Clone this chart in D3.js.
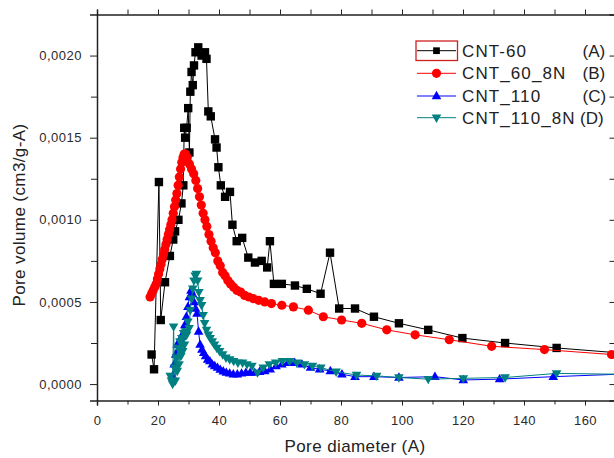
<!DOCTYPE html>
<html>
<head>
<meta charset="utf-8">
<title>Pore volume distribution</title>
<script src="https://d3js.org/d3.v7.min.js"></script>
<style type="text/css">
body { margin: 0; background: #fff; }
svg { display: block; font-family: Arial, "Liberation Sans", sans-serif; }
.tick text { fill: #2a2a2a; font-size: 13px; letter-spacing: 0.5px; }
.axis path, .axis line { stroke: #222; }
.axis path { stroke-width: 1.5px; }
</style>
</head>
<body>
<div id="chart"></div>
<script type="text/javascript">
// CNT-60 (A)
var cnt60X = [17.9, 18.7, 20.3, 20.9, 22.3, 23.9, 25.0, 25.6, 26.7, 27.7, 28.3, 28.6, 28.9, 29.4, 29.9,
    30.3, 30.6, 31.0, 31.4, 31.8, 32.3, 33.2, 34.3, 35.4, 35.9, 36.5, 37.3, 38.7, 39.2, 39.8,
    40.6, 42.0, 43.6, 44.4, 45.8, 47.6, 49.6, 51.8, 54.0, 55.8, 56.7, 58.0, 60.6, 64.9, 68.8,
    73.3, 76.4, 79.4, 84.6, 90.8, 99.0, 108.6, 119.8, 133.8, 150.7, 171];
var cnt60Y = [0.00018, 0.00009, 0.00123, 0.00039, 0.00062, 0.00078, 0.00088, 0.00093, 0.00100, 0.00110,
    0.00121, 0.00156, 0.00150, 0.00156, 0.00168, 0.00141, 0.00178, 0.00190, 0.00182, 0.00194,
    0.00202, 0.00205, 0.00200, 0.00202, 0.00198, 0.00166, 0.00163, 0.00149, 0.00144, 0.00132,
    0.00121, 0.00114, 0.00117, 0.00097, 0.00087, 0.00089, 0.00077, 0.00074, 0.00075, 0.00071,
    0.00087, 0.00061, 0.00061, 0.00060, 0.00058, 0.00055, 0.00080, 0.00046, 0.00046, 0.00041,
    0.00037, 0.00033, 0.00028, 0.00025, 0.00022, 0.00019];

// CNT_60_8N (B)
var cnt608nX = [17.4, 17.9, 18.4, 18.9, 19.4, 19.8, 20.2, 20.6, 21.0, 21.4, 21.8, 22.2, 22.6, 23.0, 23.4,
    23.8, 24.2, 24.6, 25.0, 25.4, 25.8, 26.2, 26.6, 27.0, 27.4, 27.8, 28.2, 28.6, 29.0, 29.6,
    30.3, 31.0, 31.7, 32.4, 33.0, 33.6, 34.2, 34.8, 35.4, 36.0, 36.7, 37.4, 38.1, 38.8, 39.6,
    40.4, 41.2, 42.0, 42.9, 43.8, 44.8, 45.9, 47.1, 48.4, 49.8, 51.3, 53.0, 55.0, 57.2, 60.6,
    64.4, 69.3, 74.2, 80.2, 86.8, 95.0, 104.3, 115.5, 129.4, 146.7, 168.7];
var cnt608nY = [0.00053, 0.00055, 0.00057, 0.00059, 0.00061, 0.00064, 0.00067, 0.00070, 0.00073, 0.00076,
    0.00079, 0.00082, 0.00085, 0.00088, 0.00091, 0.00094, 0.00097, 0.00100, 0.00104, 0.00108,
    0.00112, 0.00116, 0.00121, 0.00126, 0.00131, 0.00135, 0.00138, 0.00140, 0.00140, 0.00138,
    0.00134, 0.00131, 0.00128, 0.00124, 0.00119, 0.00114, 0.00109, 0.00104, 0.00100, 0.00096,
    0.00091, 0.00087, 0.00083, 0.00080, 0.00075, 0.00072, 0.00068, 0.00066, 0.00063, 0.00061,
    0.00059, 0.00057, 0.00056, 0.00054, 0.00053, 0.00052, 0.00051, 0.00050, 0.00049, 0.00048,
    0.00047, 0.00045, 0.00041, 0.00039, 0.00037, 0.00033, 0.00030, 0.00027, 0.00023, 0.00021,
    0.00018];

// CNT_110 (C)
var cnt110X = [24.8, 25.3, 25.8, 26.3, 26.8, 27.3, 27.8, 28.3, 28.8, 29.3, 29.8, 30.3, 30.8, 31.3, 31.8,
    32.3, 32.8, 33.3, 33.8, 34.4, 35.0, 35.6, 36.3, 37.0, 37.8, 38.6, 39.5, 40.4, 41.4, 42.4,
    43.5, 44.7, 46.0, 47.4, 48.8, 50.2, 51.7, 53.3, 55.0, 56.8, 58.7, 60.6, 62.6, 64.8, 67.2,
    70.0, 73.0, 76.5, 80.3, 84.6, 90.8, 99.0, 110.8, 120.1, 132.0, 149.6, 171];
var cnt110Y = [0.00005, 0.00012, 0.00018, 0.00024, 0.00021, 0.00027, 0.00029, 0.00031, 0.00036, 0.00041,
    0.00047, 0.00053, 0.00057, 0.00055, 0.00050, 0.00046, 0.00043, 0.00032, 0.00024, 0.00021,
    0.00019, 0.00017, 0.00015, 0.00014, 0.00012, 0.00011, 0.00010, 0.000088, 0.000078, 0.00007,
    0.000065, 0.00006, 0.00006, 0.000065, 0.00007, 0.00007, 0.00007, 0.000075, 0.00008, 0.00009,
    0.00011, 0.00012, 0.00013, 0.00013, 0.00012, 0.00010, 0.00009, 0.00008, 0.00006, 0.000045,
    0.000045, 0.00004, 0.000045, 0.000025, 0.00003, 0.000045, 0.00006];

// CNT_110_8N (D)
var cnt1108nX = [24.0, 24.4, 24.8, 25.1, 25.4, 25.7, 26.0, 26.3, 26.6, 26.9, 27.2, 27.5, 27.8, 28.1, 28.4,
    28.7, 29.0, 29.4, 29.8, 30.2, 30.6, 31.0, 31.4, 31.8, 32.2, 32.6, 33.0, 33.4, 33.8, 34.3,
    34.8, 35.3, 35.9, 36.5, 37.1, 37.8, 38.5, 39.3, 40.2, 41.2, 42.3, 43.5, 44.8, 46.2, 47.7,
    49.2, 50.8, 52.6, 54.5, 56.5, 58.6, 60.8, 63.1, 65.5, 68.0, 70.6, 73.4, 78.4, 85.1, 91.7,
    99.0, 108.6, 120.1, 133.8, 150.7, 171];
var cnt1108nY = [0.00005, 0.00002, 0.00000, 0.00035, 0.00010, 0.00002, 0.00016, 0.00008, 0.00022, 0.00012,
    0.00026, 0.00017, 0.00028, 0.00020, 0.00031, 0.00024, 0.00032, 0.00030, 0.00038, 0.00034,
    0.00045, 0.00052, 0.00058, 0.00063, 0.00066, 0.00067, 0.00063, 0.00056, 0.00051, 0.00048,
    0.00042, 0.00037, 0.00033, 0.00030, 0.00028, 0.00026, 0.00024, 0.00022, 0.00020, 0.00018,
    0.00016, 0.00015, 0.00014, 0.00013, 0.00013, 0.00012, 0.00011, 0.00007, 0.00010, 0.00012,
    0.00013, 0.00014, 0.00014, 0.00013, 0.00012, 0.00011, 0.00010, 0.000075, 0.000055, 0.00005,
    0.00004, 0.00003, 0.000035, 0.00004, 0.000065, 0.00006];

var seriesNames = ["CNT-60", "CNT_60_8N", "CNT_110", "CNT_110_8N"];
var seriesTags = ["(A)", "(B)", "(C)", "(D)"];
var seriesColors = ["#000000", "#ff0000", "#0000ff", "#008080"];
var seriesMarks = ["square", "circle", "up", "down"];

var xTicks = [0, 20, 40, 60, 80, 100, 120, 140, 160];
var xMinor = [10, 30, 50, 70, 90, 110, 130, 150, 170];
var yTicks = [0, 0.0005, 0.0010, 0.0015, 0.0020];
var yMinor = [0.00025, 0.00075, 0.00125, 0.00175];

var width = 614, height = 458;
var x = d3.scaleLinear().domain([0, 170]).range([97, 615.5]);
var y = d3.scaleLinear().domain([-0.0001, 0.00225]).range([400.5, 14.5]);

var svg = d3.select("#chart").append("svg")
    .attr("width", width)
    .attr("height", height);

var fmt = function(d) { return d3.format(".4f")(d).replace(".", ","); };

// bottom axis, ticks outward
svg.append("g").attr("class", "axis")
    .attr("transform", "translate(0," + y.range()[0] + ")")
    .call(d3.axisBottom(x).tickValues(xTicks).tickSize(5).tickPadding(10).tickFormat(d3.format("d")));
svg.append("g").attr("class", "axis")
    .attr("transform", "translate(0," + y.range()[0] + ")")
    .call(d3.axisBottom(x).tickValues(xMinor).tickSize(4).tickFormat(""))
    .select(".domain").remove();

// top axis, ticks inward
svg.append("g").attr("class", "axis")
    .attr("transform", "translate(0," + y.range()[1] + ")")
    .call(d3.axisBottom(x).tickValues(xTicks.concat(xMinor)).tickSize(-5).tickFormat(""));

// left axis, ticks outward
svg.append("g").attr("class", "axis")
    .attr("transform", "translate(" + x.range()[0] + ",0)")
    .call(d3.axisLeft(y).tickValues(yTicks).tickSize(7).tickPadding(8).tickFormat(fmt));
svg.append("g").attr("class", "axis")
    .attr("transform", "translate(" + x.range()[0] + ",0)")
    .call(d3.axisLeft(y).tickValues(yMinor).tickSize(6).tickFormat(""))
    .select(".domain").remove();

// right axis, ticks inward
svg.append("g").attr("class", "axis")
    .attr("transform", "translate(" + x.range()[1] + ",0)")
    .call(d3.axisLeft(y).tickValues(yTicks.concat(yMinor)).tickSize(6).tickFormat(""));

svg.selectAll(".axis .domain").attr("stroke-width", 1.5);

// axis titles
svg.append("text")
    .attr("x", 355).attr("y", 452)
    .attr("text-anchor", "middle")
    .style("font-size", "17px").style("fill", "#222").style("letter-spacing", "0.4px")
    .text("Pore diameter (A)");
svg.append("text")
    .attr("transform", "translate(24.5,215) rotate(-90)")
    .attr("text-anchor", "middle")
    .style("font-size", "17px").style("fill", "#222").style("letter-spacing", "0.4px")
    .text("Pore volume (cm3/g-A)");

function markPath(kind) {
    if (kind === "square") return "M-4.2,-4.2H4.2V4.2H-4.2Z";
    if (kind === "circle") return d3.symbol(d3.symbolCircle, Math.PI * 4.6 * 4.6)();
    if (kind === "up") return "M0,-5.2L4.8,3.2L-4.8,3.2Z";
    return "M0,5.2L4.8,-3.2L-4.8,-3.2Z";
}

var allX = [cnt60X, cnt608nX, cnt110X, cnt1108nX];
var allY = [cnt60Y, cnt608nY, cnt110Y, cnt1108nY];

var line = d3.line()
    .x(function(d) { return x(d[0]); })
    .y(function(d) { return y(d[1]); });

allX.forEach(function(xs, i) {
    var pts = xs.map(function(v, j) { return [v, allY[i][j]]; });
    var g = svg.append("g").attr("class", "series");
    g.append("path")
        .datum(pts)
        .attr("d", line)
        .attr("fill", "none")
        .attr("stroke", seriesColors[i])
        .attr("stroke-width", 1);
    g.selectAll("path.mark")
        .data(pts)
        .enter()
        .append("path")
        .attr("class", "mark")
        .attr("d", markPath(seriesMarks[i]))
        .attr("transform", function(d) { return "translate(" + x(d[0]) + "," + y(d[1]) + ")"; })
        .attr("fill", seriesColors[i]);
});

// legend
var legend = svg.append("g").attr("transform", "translate(416,0)");
var rowY = [50.7, 73.3, 96, 117.7];
legend.append("rect")
    .attr("x", 0).attr("y", 41).attr("width", 41.5).attr("height", 19.5)
    .attr("fill", "none").attr("stroke", "#d02020").attr("stroke-width", 1.3);
seriesNames.forEach(function(name, i) {
    legend.append("line")
        .attr("x1", 1).attr("x2", 40)
        .attr("y1", rowY[i]).attr("y2", rowY[i])
        .attr("stroke", seriesColors[i]).attr("stroke-width", 1);
    legend.append("path")
        .attr("d", markPath(seriesMarks[i]))
        .attr("transform", "translate(20.5," + rowY[i] + ")" + (i === 0 ? " scale(0.8)" : ""))
        .attr("fill", seriesColors[i]);
    legend.append("text")
        .attr("x", 46).attr("y", rowY[i] + 6)
        .style("font-size", "17px").style("fill", "#222").style("letter-spacing", "1.1px")
        .text(name);
    legend.append("text")
        .attr("x", i === 3 ? 164 : 166.5).attr("y", rowY[i] + 6)
        .style("font-size", "17px").style("fill", "#222")
        .text(seriesTags[i]);
});
</script>
</body>
</html>
